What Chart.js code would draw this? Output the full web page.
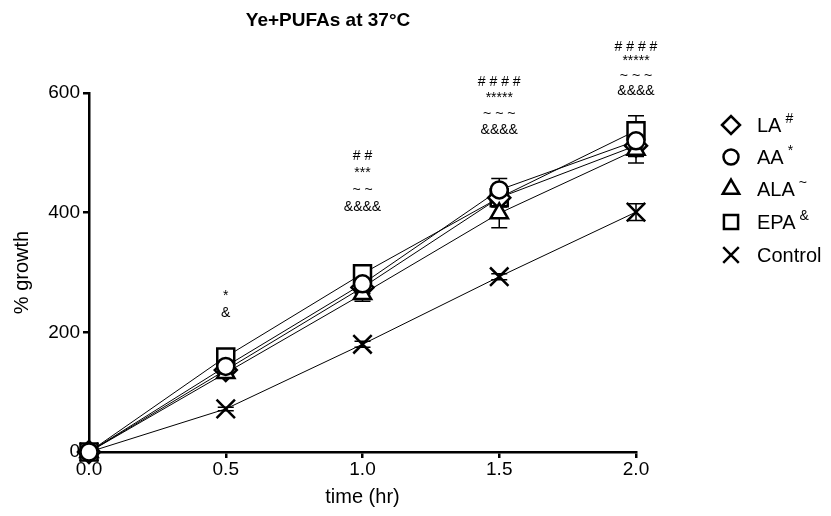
<!DOCTYPE html>
<html>
<head>
<meta charset="utf-8">
<script src="https://cdn.jsdelivr.net/npm/chart.js@4.4.1/dist/chart.umd.min.js"></script>
<style>
html,body{margin:0;padding:0;background:#fff;}
#wrap{width:831px;height:516px;}
</style>
</head>
<body>
<div id="wrap"><canvas id="c" width="831" height="516"></canvas></div>
<script>
// ---- data ----
const timePoints = [0, 0.5, 1.0, 1.5, 2.0];
const xTickLabels = ["0.0", "0.5", "1.0", "1.5", "2.0"];
const yTickValues = [0, 200, 400, 600];

const LA      = [0, 137, 275, 425, 512];
const AA      = [0, 143, 281, 438, 520];
const ALA     = [0, 132, 264, 399, 505];
const EPA     = [0, 159, 298, 425, 537];
const Control = [0, 72, 180, 293, 401];

const LA_err      = [0, 6, 10, 15, 18];
const AA_err      = [0, 6, 8, 19, 20];
const ALA_err     = [0, 8, 12, 24, 22];
const EPA_err     = [0, 5, 8, 15, 25];
const Control_err = [0, 3, 5, 5, 14];

const seriesNames = ["LA", "AA", "ALA", "EPA", "Control"];
const seriesSup   = ["#", "*", "~", "&", ""];

// significance annotations above each time point
const annotX = [0.5, 1.0, 1.5, 2.0];
const annotLines = [
  ["*", "&"],
  ["# #", "***", "~ ~", "&&&&"],
  ["# # # #", "*****", "~ ~ ~", "&&&&"],
  ["# # # #", "*****", "~ ~ ~", "&&&&"]
];
const annotBaseY = [235, 412, 542, 607]; // data value of lowest annotation line
const annotGap = [17, 17, 16, 14.7];     // line spacing per group

const titleText = "Ye+PUFAs at 37°C";
const xTitle = "time (hr)";
const yTitle = "% growth";

// ---- chart ----
const FONT = "'Liberation Sans', Arial, sans-serif";
const styles = {
  LA:      {pointStyle: 'rectRot', radius: 11, legendR: 9},
  AA:      {pointStyle: 'circle', radius: 8.5, legendR: 7.5},
  ALA:     {pointStyle: 'triangle', radius: 10, legendR: 9.5},
  EPA:     {pointStyle: 'rect', radius: 12, legendR: 10},
  Control: {pointStyle: 'crossRot', radius: 13, legendR: 11}
};
const seriesData = {LA, AA, ALA, EPA, Control};
const seriesErr = {LA: LA_err, AA: AA_err, ALA: ALA_err, EPA: EPA_err, Control: Control_err};

const drawOrder = ["AA", "ALA", "LA", "EPA", "Control"];
const datasets = drawOrder.map(name => ({
  label: name,
  data: timePoints.map((t, i) => ({x: t, y: seriesData[name][i]})),
  errors: seriesErr[name],
  borderColor: '#000',
  backgroundColor: '#fff',
  borderWidth: 1,
  pointStyle: styles[name].pointStyle,
  pointRadius: styles[name].radius,
  pointHoverRadius: styles[name].radius,
  pointBorderWidth: 2.5,
  pointBorderColor: '#000',
  pointBackgroundColor: '#fff',
  tension: 0,
  clip: false
}));

const errorBarPlugin = {
  id: 'errorBars',
  beforeDatasetsDraw(chart) {
    const ctx = chart.ctx;
    const xs = chart.scales.x, ys = chart.scales.y;
    ctx.save();
    ctx.strokeStyle = '#000';
    ctx.lineWidth = 1.5;
    chart.data.datasets.forEach(ds => {
      ds.data.forEach((p, i) => {
        const e = ds.errors[i];
        if (!e) return;
        const px = xs.getPixelForValue(p.x);
        const top = ys.getPixelForValue(p.y + e);
        const bot = ys.getPixelForValue(p.y - e);
        ctx.beginPath();
        ctx.moveTo(px, top); ctx.lineTo(px, bot);
        ctx.moveTo(px - 8, top); ctx.lineTo(px + 8, top);
        ctx.moveTo(px - 8, bot); ctx.lineTo(px + 8, bot);
        ctx.stroke();
      });
    });
    ctx.restore();
  }
};

const decorPlugin = {
  id: 'decor',
  afterDraw(chart) {
    const ctx = chart.ctx;
    const xs = chart.scales.x, ys = chart.scales.y;
    ctx.save();
    // title
    ctx.fillStyle = '#000';
    ctx.font = "bold 19px " + FONT;
    ctx.textAlign = 'center';
    ctx.textBaseline = 'middle';
    ctx.fillText(titleText, 328, 21);

    // annotations
    ctx.font = "14px " + FONT;
    annotX.forEach((xv, k) => {
      const px = xs.getPixelForValue(xv);
      const baseY = ys.getPixelForValue(annotBaseY[k]);
      const lines = annotLines[k];
      lines.forEach((txt, j) => {
        const y = baseY - (lines.length - 1 - j) * annotGap[k];
        ctx.fillText(txt, px, y + 2);
      });
    });

    // legend
    const mx = 731, tx = 757;
    const rowY = [125, 157, 189, 222, 255];
    seriesNames.forEach((name, i) => {
      ctx.strokeStyle = '#000';
      ctx.fillStyle = '#fff';
      ctx.lineWidth = 2.5;
      Chart.helpers.drawPoint(ctx, {pointStyle: styles[name].pointStyle, radius: styles[name].legendR, rotation: 0, borderWidth: 2.5}, mx, rowY[i]);
      ctx.fillStyle = '#000';
      ctx.textAlign = 'left';
      ctx.textBaseline = 'middle';
      ctx.font = "20px " + FONT;
      ctx.fillText(name, tx, rowY[i] + 1);
      const w = ctx.measureText(name).width;
      if (seriesSup[i]) {
        ctx.font = "14px " + FONT;
        ctx.fillText(seriesSup[i], tx + w + 4, rowY[i] - 6);
      }
    });
    ctx.restore();
  }
};

new Chart(document.getElementById('c'), {
  type: 'line',
  data: {datasets},
  options: {
    responsive: false,
    animation: false,
    devicePixelRatio: 1,
    layout: {padding: {top: 93, right: 195, left: 0, bottom: 0}},
    plugins: {legend: {display: false}, tooltip: {enabled: false}, title: {display: false}},
    scales: {
      x: {
        type: 'linear', min: 0, max: 2,
        afterFit(s) { s.height = 64; },
        afterBuildTicks(s) { s.ticks = timePoints.map(v => ({value: v})); },
        ticks: {
          callback: (v) => { const i = timePoints.indexOf(v); return i >= 0 ? xTickLabels[i] : ''; },
          color: '#000', font: {size: 19, family: FONT}, padding: 0, maxRotation: 0
        },
        grid: {display: true, drawOnChartArea: false, drawTicks: true, tickLength: 6, color: '#000', lineWidth: 2.5},
        border: {display: true, color: '#000', width: 2.5},
        title: {display: true, text: xTitle, color: '#000', font: {size: 20, family: FONT}, padding: {top: 0, bottom: 7}}
      },
      y: {
        type: 'linear', min: 0, max: 600,
        afterFit(s) { s.width = 89; },
        afterBuildTicks(s) { s.ticks = yTickValues.map(v => ({value: v})); },
        ticks: {color: '#000', font: {size: 19, family: FONT}, padding: 3},
        grid: {display: true, drawOnChartArea: false, drawTicks: true, tickLength: 6, color: '#000', lineWidth: 2.5},
        border: {display: true, color: '#000', width: 2.5},
        title: {display: true, text: yTitle, color: '#000', font: {size: 20, family: FONT}, padding: {top: 10, bottom: 0}}
      }
    }
  },
  plugins: [errorBarPlugin, decorPlugin]
});
</script>
</body>
</html>
